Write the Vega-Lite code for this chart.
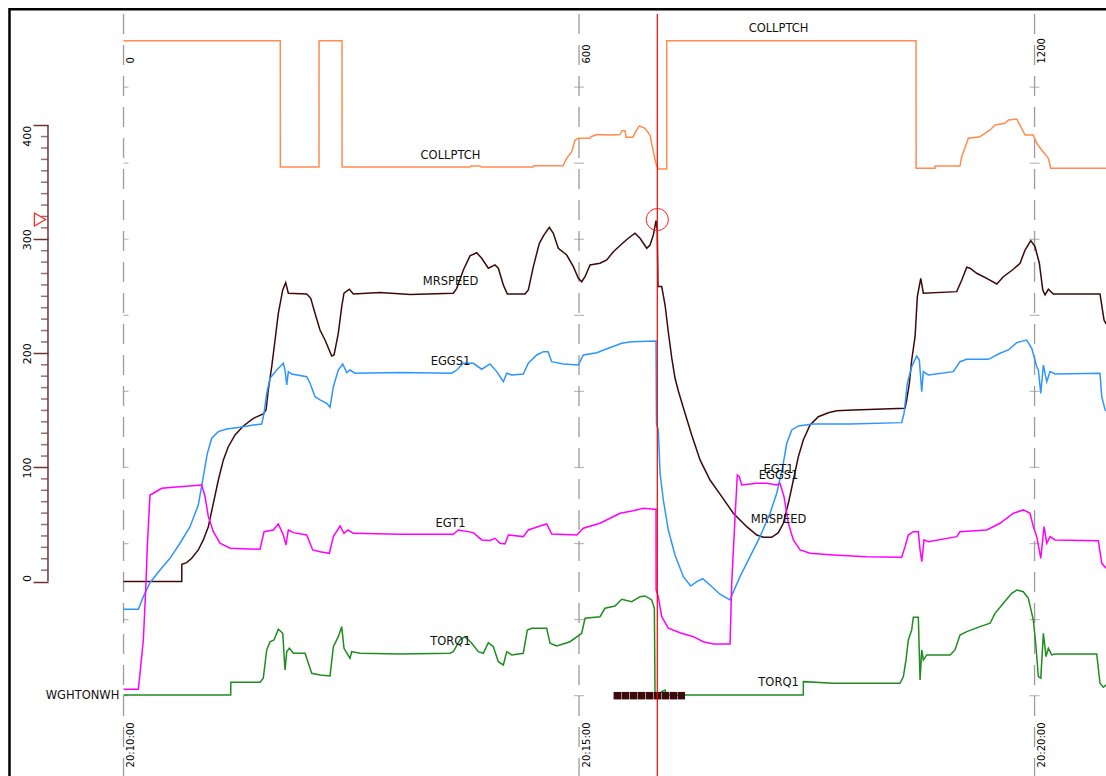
{
"$schema": "https://vega.github.io/schema/vega-lite/v6.json",
"width": 1106, "height": 776,
"autosize": {"type": "none"},
"padding": 0,
"config": {"view": {"stroke": null}, "font": "DejaVu Sans"},
"resolve": {"axis": {"x": "independent", "y": "independent"}},
"datasets": {
"one": [{}],
"grid": [{"t":0},{"t":600},{"t":1200}],
"gridticks": [
{"t":0,"v":-100},{"t":0,"v":-33.3},{"t":0,"v":33.3},{"t":0,"v":100},{"t":0,"v":166.7},{"t":0,"v":233.3},{"t":0,"v":300},{"t":0,"v":366.7},{"t":0,"v":433.3},
{"t":600,"v":-100},{"t":600,"v":-33.3},{"t":600,"v":33.3},{"t":600,"v":100},{"t":600,"v":166.7},{"t":600,"v":233.3},{"t":600,"v":300},{"t":600,"v":366.7},{"t":600,"v":433.3},
{"t":1200,"v":-100},{"t":1200,"v":-33.3},{"t":1200,"v":33.3},{"t":1200,"v":100},{"t":1200,"v":166.7},{"t":1200,"v":233.3},{"t":1200,"v":300},{"t":1200,"v":366.7},{"t":1200,"v":433.3}],
"minor": [{"v":10},{"v":20},{"v":30},{"v":40},{"v":50},{"v":60},{"v":70},{"v":80},{"v":90},{"v":110},{"v":120},{"v":130},{"v":140},{"v":150},{"v":160},{"v":170},{"v":180},{"v":190},{"v":210},{"v":220},{"v":230},{"v":240},{"v":250},{"v":260},{"v":270},{"v":280},{"v":290},{"v":310},{"v":320},{"v":330},{"v":340},{"v":350},{"v":360},{"v":370},{"v":380},{"v":390}],
"collptch": [{"t":0,"v":474.0},{"t":206.5,"v":474.0},{"t":206.6,"v":363.4},{"t":257.5,"v":363.4},{"t":257.6,"v":474.0},{"t":287.8,"v":474.0},{"t":287.9,"v":363.4},{"t":456.4,"v":363.4},{"t":457.7,"v":364.2},{"t":469.6,"v":364.2},{"t":470.9,"v":363.4},{"t":539.4,"v":363.4},{"t":540.7,"v":364.4},{"t":578.9,"v":364.4},{"t":583.8,"v":371.0},{"t":590.4,"v":376.8},{"t":594.7,"v":387.0},{"t":599.1,"v":388.5},{"t":614.5,"v":388.5},{"t":615.8,"v":389.9},{"t":623.3,"v":391.8},{"t":640.8,"v":391.4},{"t":654.0,"v":391.8},{"t":656.6,"v":395.2},{"t":660.6,"v":395.2},{"t":661.9,"v":389.4},{"t":671.1,"v":389.4},{"t":673.7,"v":393.2},{"t":679.4,"v":399.3},{"t":686.9,"v":397.3},{"t":693.5,"v":391.4},{"t":697.9,"v":376.8},{"t":701.4,"v":366.0},{"t":703.1,"v":363.6},{"t":704.4,"v":361.6},{"t":715.5,"v":361.6},{"t":715.6,"v":474.0},{"t":1043.9,"v":474.0},{"t":1044.0,"v":362.2},{"t":1068.9,"v":362.2},{"t":1069.0,"v":364.2},{"t":1101.8,"v":364.2},{"t":1104.1,"v":372.4},{"t":1112.8,"v":388.5},{"t":1128.2,"v":389.9},{"t":1141.4,"v":395.8},{"t":1147.9,"v":400.2},{"t":1161.1,"v":401.7},{"t":1165.5,"v":404.5},{"t":1176.5,"v":405.4},{"t":1181.8,"v":398.7},{"t":1187.5,"v":391.4},{"t":1198.4,"v":391.4},{"t":1202.9,"v":384.1},{"t":1209.5,"v":378.3},{"t":1218.2,"v":371.0},{"t":1221.3,"v":362.2},{"t":1294.2,"v":362.2}],
"mrspeed": [{"t":0,"v":0},{"t":76.7,"v":0},{"t":76.8,"v":15.2},{"t":83.2,"v":16.6},{"t":89.8,"v":20.4},{"t":98.5,"v":27.7},{"t":105.1,"v":36.5},{"t":111.7,"v":48.1},{"t":118.3,"v":68.6},{"t":124.9,"v":89.0},{"t":131.5,"v":106.6},{"t":138.0,"v":118.2},{"t":146.9,"v":128.5},{"t":157.8,"v":136.4},{"t":171.0,"v":143.1},{"t":184.1,"v":146.9},{"t":187.7,"v":150.4},{"t":190.7,"v":167.9},{"t":195.2,"v":188.3},{"t":199.6,"v":211.7},{"t":203.9,"v":235.1},{"t":209.7,"v":255.6},{"t":213.6,"v":262.0},{"t":217.1,"v":252.7},{"t":241.3,"v":252.1},{"t":246.6,"v":248.3},{"t":252.2,"v":235.1},{"t":258.8,"v":220.5},{"t":265.4,"v":211.7},{"t":274.2,"v":197.7},{"t":277.3,"v":198.6},{"t":282.9,"v":217.6},{"t":287.4,"v":240.9},{"t":290.4,"v":252.7},{"t":297.4,"v":256.2},{"t":302.7,"v":252.1},{"t":337.9,"v":253.4},{"t":377.4,"v":251.6},{"t":434.4,"v":252.7},{"t":438.9,"v":257.0},{"t":447.6,"v":273.1},{"t":456.4,"v":285.4},{"t":465.2,"v":288.2},{"t":471.8,"v":283.3},{"t":480.5,"v":274.6},{"t":489.3,"v":277.5},{"t":493.7,"v":274.6},{"t":500.3,"v":259.9},{"t":505.5,"v":252.1},{"t":528.9,"v":252.1},{"t":533.2,"v":255.6},{"t":539.8,"v":276.0},{"t":547.7,"v":296.5},{"t":553.9,"v":303.8},{"t":560.9,"v":310.5},{"t":566.1,"v":305.3},{"t":572.7,"v":292.1},{"t":583.8,"v":286.2},{"t":592.5,"v":276.0},{"t":599.1,"v":265.8},{"t":603.5,"v":262.8},{"t":607.9,"v":267.2},{"t":614.5,"v":277.5},{"t":627.6,"v":279.0},{"t":636.5,"v":281.9},{"t":645.2,"v":289.1},{"t":656.2,"v":295.9},{"t":664.9,"v":300.9},{"t":673.7,"v":305.3},{"t":680.3,"v":300.9},{"t":689.2,"v":292.1},{"t":693.5,"v":295.0},{"t":697.9,"v":303.8},{"t":701.4,"v":316.3},{"t":703.1,"v":308.1},{"t":704.0,"v":258.5},{"t":708.9,"v":258.5},{"t":713.3,"v":242.4},{"t":717.6,"v":218.7},{"t":722.1,"v":196.0},{"t":726.4,"v":178.4},{"t":730.8,"v":167.0},{"t":739.6,"v":147.5},{"t":748.4,"v":128.5},{"t":759.4,"v":106.6},{"t":772.5,"v":89.0},{"t":788.0,"v":74.4},{"t":803.2,"v":59.9},{"t":820.9,"v":48.1},{"t":834.1,"v":40.8},{"t":842.7,"v":38.8},{"t":853.8,"v":38.8},{"t":862.5,"v":42.9},{"t":869.1,"v":51.1},{"t":875.7,"v":68.6},{"t":882.3,"v":89.0},{"t":888.9,"v":109.5},{"t":895.4,"v":124.1},{"t":904.3,"v":137.2},{"t":915.2,"v":144.5},{"t":928.4,"v":148.0},{"t":939.4,"v":149.8},{"t":961.3,"v":150.4},{"t":1000.8,"v":151.3},{"t":1029.4,"v":151.9},{"t":1031.6,"v":159.2},{"t":1035.1,"v":173.8},{"t":1038.2,"v":194.2},{"t":1042.6,"v":214.6},{"t":1045.6,"v":249.7},{"t":1050.1,"v":265.8},{"t":1053.5,"v":252.7},{"t":1097.5,"v":254.1},{"t":1104.1,"v":264.3},{"t":1110.7,"v":275.5},{"t":1115.0,"v":274.6},{"t":1123.8,"v":270.2},{"t":1137.0,"v":265.8},{"t":1150.2,"v":260.8},{"t":1158.9,"v":267.2},{"t":1172.1,"v":273.7},{"t":1180.9,"v":279.0},{"t":1187.5,"v":290.6},{"t":1195.0,"v":298.8},{"t":1200.6,"v":293.5},{"t":1206.3,"v":279.0},{"t":1210.8,"v":255.6},{"t":1213.8,"v":251.2},{"t":1218.2,"v":256.2},{"t":1224.7,"v":252.1},{"t":1286.2,"v":252.1},{"t":1291.5,"v":229.3},{"t":1294.2,"v":225.8}],
"eggs1": [{"t":0,"v":-24.3},{"t":19.5,"v":-24.3},{"t":26.1,"v":-13.2},{"t":34.9,"v":-1.0},{"t":48.1,"v":10.2},{"t":61.2,"v":20.4},{"t":74.4,"v":33.6},{"t":87.6,"v":48.1},{"t":98.5,"v":67.1},{"t":105.1,"v":91.9},{"t":110.4,"v":112.4},{"t":116.2,"v":125.6},{"t":124.9,"v":131.4},{"t":135.9,"v":133.7},{"t":153.5,"v":135.2},{"t":171.0,"v":137.2},{"t":182.0,"v":138.1},{"t":185.1,"v":147.5},{"t":188.6,"v":165.0},{"t":193.0,"v":178.2},{"t":201.8,"v":185.4},{"t":210.5,"v":191.3},{"t":212.7,"v":185.4},{"t":215.0,"v":172.3},{"t":217.1,"v":184.0},{"t":221.6,"v":181.9},{"t":241.3,"v":179.6},{"t":245.7,"v":173.8},{"t":252.2,"v":162.0},{"t":258.8,"v":159.2},{"t":267.7,"v":156.3},{"t":272.0,"v":152.8},{"t":276.4,"v":170.8},{"t":282.9,"v":185.4},{"t":288.7,"v":190.7},{"t":294.0,"v":183.1},{"t":298.3,"v":185.4},{"t":304.9,"v":182.6},{"t":364.2,"v":183.3},{"t":432.3,"v":182.6},{"t":438.9,"v":185.4},{"t":447.6,"v":191.3},{"t":460.8,"v":191.3},{"t":471.8,"v":186.1},{"t":482.8,"v":190.7},{"t":491.6,"v":184.0},{"t":500.3,"v":175.2},{"t":504.8,"v":182.6},{"t":511.3,"v":181.1},{"t":526.6,"v":181.9},{"t":533.2,"v":191.3},{"t":544.3,"v":198.6},{"t":553.0,"v":201.5},{"t":559.2,"v":201.5},{"t":564.0,"v":192.7},{"t":579.3,"v":190.7},{"t":599.1,"v":189.8},{"t":605.6,"v":198.6},{"t":623.3,"v":200.6},{"t":638.6,"v":204.5},{"t":656.2,"v":208.8},{"t":669.4,"v":210.2},{"t":701.4,"v":210.9},{"t":702.0,"v":138.0},{"t":704.4,"v":132.9},{"t":706.7,"v":94.9},{"t":711.0,"v":71.5},{"t":717.6,"v":45.2},{"t":726.4,"v":23.3},{"t":737.4,"v":4.3},{"t":747.1,"v":-3.9},{"t":755.0,"v":-0.1},{"t":762.9,"v":2.5},{"t":772.5,"v":-3.0},{"t":785.7,"v":-11.1},{"t":798.9,"v":-16.1},{"t":802.4,"v":-10.3},{"t":812.0,"v":4.3},{"t":825.2,"v":21.8},{"t":838.4,"v":39.4},{"t":851.6,"v":59.9},{"t":860.4,"v":77.4},{"t":868.3,"v":100.7},{"t":873.6,"v":121.2},{"t":880.2,"v":132.9},{"t":888.9,"v":136.4},{"t":908.6,"v":138.1},{"t":957.0,"v":138.1},{"t":1025.0,"v":139.3},{"t":1028.1,"v":147.5},{"t":1032.4,"v":173.8},{"t":1038.2,"v":188.3},{"t":1044.8,"v":197.7},{"t":1048.2,"v":194.2},{"t":1051.4,"v":166.4},{"t":1053.5,"v":184.0},{"t":1060.1,"v":181.1},{"t":1093.0,"v":184.0},{"t":1101.8,"v":192.7},{"t":1110.7,"v":194.8},{"t":1139.1,"v":194.8},{"t":1154.5,"v":200.1},{"t":1165.5,"v":203.0},{"t":1176.5,"v":209.4},{"t":1189.7,"v":211.7},{"t":1196.3,"v":204.5},{"t":1202.9,"v":188.3},{"t":1205.0,"v":185.4},{"t":1208.2,"v":165.0},{"t":1211.6,"v":189.8},{"t":1216.1,"v":175.2},{"t":1220.4,"v":184.0},{"t":1227.0,"v":181.9},{"t":1286.2,"v":182.6},{"t":1288.5,"v":162.0},{"t":1292.9,"v":150.4},{"t":1294.2,"v":149.5}],
"egt1": [{"t":0,"v":-94.4},{"t":19.5,"v":-94.4},{"t":21.7,"v":-80.4},{"t":26.1,"v":-51.2},{"t":29.6,"v":-1.5},{"t":31.3,"v":30.6},{"t":34.9,"v":75.9},{"t":39.3,"v":77.4},{"t":50.3,"v":81.8},{"t":65.6,"v":82.6},{"t":103.0,"v":84.7},{"t":107.4,"v":74.4},{"t":111.7,"v":56.9},{"t":118.3,"v":43.7},{"t":127.1,"v":33.6},{"t":140.3,"v":29.2},{"t":179.8,"v":28.3},{"t":185.1,"v":43.7},{"t":197.3,"v":45.2},{"t":203.9,"v":50.5},{"t":210.5,"v":40.8},{"t":214.0,"v":32.1},{"t":217.1,"v":45.2},{"t":223.7,"v":42.9},{"t":241.3,"v":40.8},{"t":249.2,"v":27.7},{"t":258.8,"v":26.2},{"t":271.1,"v":24.8},{"t":276.4,"v":39.4},{"t":285.2,"v":48.7},{"t":290.4,"v":42.3},{"t":295.7,"v":45.2},{"t":302.7,"v":42.3},{"t":364.2,"v":41.5},{"t":434.4,"v":41.5},{"t":441.0,"v":45.2},{"t":460.8,"v":42.9},{"t":471.8,"v":36.5},{"t":482.8,"v":36.0},{"t":489.3,"v":37.9},{"t":495.9,"v":33.6},{"t":502.5,"v":33.0},{"t":506.9,"v":40.8},{"t":526.6,"v":39.4},{"t":533.2,"v":45.2},{"t":548.6,"v":48.7},{"t":557.4,"v":50.5},{"t":564.0,"v":41.7},{"t":597.0,"v":40.8},{"t":605.6,"v":46.7},{"t":627.6,"v":51.1},{"t":640.8,"v":55.5},{"t":654.0,"v":59.9},{"t":671.5,"v":62.1},{"t":684.7,"v":64.2},{"t":699.2,"v":63.4},{"t":701.4,"v":63.4},{"t":701.5,"v":-7.4},{"t":704.4,"v":-13.2},{"t":708.9,"v":-30.8},{"t":717.6,"v":-40.9},{"t":733.0,"v":-44.8},{"t":750.5,"v":-48.3},{"t":763.7,"v":-52.7},{"t":776.9,"v":-54.7},{"t":798.9,"v":-54.7},{"t":801.1,"v":-1.5},{"t":805.5,"v":56.9},{"t":808.5,"v":93.4},{"t":811.1,"v":91.9},{"t":814.3,"v":84.7},{"t":834.1,"v":86.2},{"t":847.2,"v":86.2},{"t":860.4,"v":84.7},{"t":864.7,"v":86.2},{"t":870.0,"v":74.4},{"t":875.7,"v":51.1},{"t":882.3,"v":36.5},{"t":891.1,"v":27.7},{"t":904.3,"v":24.8},{"t":935.0,"v":23.3},{"t":978.9,"v":21.8},{"t":1025.0,"v":21.3},{"t":1029.4,"v":30.6},{"t":1033.7,"v":40.8},{"t":1040.3,"v":43.7},{"t":1046.9,"v":43.7},{"t":1049.2,"v":27.7},{"t":1051.4,"v":17.4},{"t":1054.4,"v":36.5},{"t":1060.1,"v":35.0},{"t":1097.5,"v":39.4},{"t":1101.8,"v":43.7},{"t":1137.0,"v":45.2},{"t":1154.5,"v":51.1},{"t":1172.1,"v":59.9},{"t":1185.2,"v":62.8},{"t":1194.0,"v":59.9},{"t":1198.4,"v":48.1},{"t":1202.9,"v":39.4},{"t":1208.2,"v":20.4},{"t":1212.5,"v":48.1},{"t":1216.1,"v":33.6},{"t":1220.4,"v":39.4},{"t":1227.0,"v":36.5},{"t":1284.0,"v":35.8},{"t":1288.5,"v":16.0},{"t":1294.2,"v":11.7}],
"torq1": [{"t":0,"v":-99.4},{"t":141.2,"v":-99.4},{"t":141.3,"v":-88.3},{"t":179.8,"v":-88.3},{"t":184.1,"v":-84.7},{"t":188.6,"v":-59.9},{"t":193.0,"v":-52.7},{"t":198.2,"v":-51.2},{"t":203.9,"v":-41.8},{"t":209.7,"v":-45.3},{"t":212.7,"v":-77.5},{"t":215.0,"v":-61.4},{"t":218.4,"v":-58.5},{"t":223.7,"v":-62.8},{"t":239.1,"v":-62.8},{"t":247.9,"v":-80.4},{"t":258.8,"v":-81.9},{"t":272.0,"v":-82.7},{"t":276.4,"v":-57.1},{"t":282.9,"v":-48.3},{"t":287.4,"v":-39.5},{"t":290.4,"v":-58.5},{"t":298.3,"v":-67.2},{"t":300.6,"v":-61.4},{"t":311.5,"v":-62.8},{"t":364.2,"v":-63.5},{"t":430.1,"v":-62.8},{"t":434.4,"v":-61.4},{"t":443.2,"v":-51.2},{"t":449.8,"v":-48.3},{"t":458.7,"v":-54.1},{"t":467.3,"v":-61.4},{"t":473.9,"v":-62.8},{"t":480.5,"v":-53.5},{"t":487.1,"v":-57.1},{"t":493.7,"v":-70.2},{"t":500.3,"v":-73.1},{"t":504.8,"v":-61.4},{"t":511.3,"v":-64.3},{"t":526.6,"v":-62.8},{"t":531.9,"v":-42.4},{"t":537.7,"v":-40.9},{"t":557.4,"v":-40.9},{"t":561.8,"v":-54.1},{"t":570.6,"v":-56.4},{"t":588.1,"v":-52.7},{"t":603.5,"v":-45.3},{"t":607.9,"v":-32.2},{"t":627.6,"v":-30.8},{"t":634.2,"v":-23.4},{"t":647.4,"v":-21.4},{"t":656.2,"v":-15.5},{"t":669.4,"v":-17.6},{"t":680.3,"v":-13.2},{"t":686.9,"v":-12.6},{"t":695.7,"v":-16.1},{"t":699.2,"v":-23.4},{"t":700.1,"v":-99.4},{"t":704.4,"v":-99.4},{"t":708.9,"v":-96.5},{"t":713.3,"v":-95.0},{"t":715.5,"v":-99.4},{"t":895.4,"v":-99.4},{"t":895.5,"v":-87.7},{"t":935.0,"v":-89.1},{"t":1022.8,"v":-89.1},{"t":1027.2,"v":-83.3},{"t":1030.7,"v":-68.7},{"t":1033.7,"v":-51.2},{"t":1038.2,"v":-42.4},{"t":1040.3,"v":-31.3},{"t":1046.9,"v":-31.3},{"t":1049.2,"v":-86.2},{"t":1051.4,"v":-59.9},{"t":1053.5,"v":-68.7},{"t":1058.0,"v":-64.3},{"t":1088.7,"v":-64.3},{"t":1095.2,"v":-59.9},{"t":1101.8,"v":-46.8},{"t":1110.7,"v":-43.9},{"t":1128.2,"v":-39.5},{"t":1141.4,"v":-36.5},{"t":1147.9,"v":-27.8},{"t":1158.9,"v":-19.0},{"t":1169.9,"v":-10.3},{"t":1176.5,"v":-7.4},{"t":1185.2,"v":-8.9},{"t":1191.8,"v":-14.6},{"t":1198.4,"v":-33.7},{"t":1201.9,"v":-57.1},{"t":1205.0,"v":-83.3},{"t":1208.2,"v":-84.7},{"t":1211.6,"v":-45.3},{"t":1215.1,"v":-65.8},{"t":1218.2,"v":-58.5},{"t":1222.6,"v":-64.3},{"t":1227.0,"v":-63.5},{"t":1281.9,"v":-63.5},{"t":1286.2,"v":-89.1},{"t":1290.6,"v":-92.6},{"t":1294.2,"v":-90.6}],
"wow": [{"t":650.4,"v":-100},{"t":660.9,"v":-100},{"t":671.5,"v":-100},{"t":682.0,"v":-100},{"t":692.6,"v":-100},{"t":703.1,"v":-100},{"t":713.6,"v":-100},{"t":724.2,"v":-100},{"t":734.7,"v":-100}],
"labels": [{"text":"COLLPTCH","t":430.7,"v":373.0},{"text":"MRSPEED","t":430.7,"v":262.8},{"text":"EGGS1","t":430.7,"v":192.7},{"text":"EGT1","t":430.7,"v":50.5},{"text":"TORQ1","t":430.7,"v":-53.2},{"text":"COLLPTCH","t":862.8,"v":484.0},{"text":"EGT1","t":862.8,"v":97.8},{"text":"EGGS1","t":862.8,"v":92.5},{"text":"MRSPEED","t":862.8,"v":54.0},{"text":"TORQ1","t":862.8,"v":-89.1}],
"wlabel": [{"text":"WGHTONWH","t":-5.5,"v":-100}],
"cursor": [{"t":703.1,"v":317.3}]
},
"layer": [
{"data":{"name":"one"},
 "mark": {"type":"rect","filled":false,"fill":null,"stroke":"#000000","strokeWidth":2.5},
 "encoding": {
  "x":{"datum":-150.2,"type":"quantitative","scale":{"domain":[-162.7,1294.1],"nice":false,"zero":false},"axis":null},
  "x2":{"datum":1400},
  "y":{"datum":501.6,"type":"quantitative","scale":{"domain":[-170.4,509.7],"nice":false,"zero":false},"axis":null},
  "y2":{"datum":-300}}},
{"data":{"name":"grid"},
 "mark":{"type":"rule","stroke":"#9c9c9c","strokeWidth":1.3,"strokeDash":[20,11]},
 "encoding":{
  "x":{"field":"t","type":"quantitative","scale":{"domain":[-162.7,1294.1],"nice":false,"zero":false},
   "axis":{"orient":"bottom","values":[0,600,1200],"labelExpr":"datum.value == 0 ? '20:10:00' : datum.value == 600 ? '20:15:00' : '20:20:00'","labelAngle":-90,"offset":-60,"domain":false,"ticks":false,"tickSize":0,"grid":false,"labelPadding":6,"labelOffset":7,"labelFontSize":10,"labelFont":"DejaVu Sans","labelColor":"#000000","labelOverlap":false,"labelFlush":false,"labelBound":false,"title":null}},
  "y":{"datum":497.4,"type":"quantitative","scale":{"domain":[-170.4,509.7],"nice":false,"zero":false},"axis":null},
  "y2":{"datum":-170.4}}},
{"data":{"name":"gridticks"},
 "transform":[{"filter":"datum.t != 0"}],
 "mark":{"type":"tick","orient":"horizontal","color":"#9c9c9c","thickness":1.2,"size":10},
 "encoding":{
  "x":{"field":"t","type":"quantitative","scale":{"domain":[-162.7,1294.1],"nice":false,"zero":false},"axis":null},
  "y":{"field":"v","type":"quantitative","scale":{"domain":[-170.4,509.7],"nice":false,"zero":false},"axis":null}}},
{"data":{"name":"gridticks"},
 "transform":[{"filter":"datum.t == 0"}],
 "mark":{"type":"tick","orient":"horizontal","color":"#9c9c9c","thickness":1.2,"size":5,"xOffset":2.5},
 "encoding":{
  "x":{"field":"t","type":"quantitative","scale":{"domain":[-162.7,1294.1],"nice":false,"zero":false},"axis":null},
  "y":{"field":"v","type":"quantitative","scale":{"domain":[-170.4,509.7],"nice":false,"zero":false},"axis":null}}},
{"data":{"name":"one"},
 "mark":{"type":"rule","stroke":"#6e3434","strokeWidth":1.5},
 "encoding":{
  "x":{"datum":-99.5,"type":"quantitative","scale":{"domain":[-162.7,1294.1],"nice":false,"zero":false},"axis":null},
  "y":{"datum":0,"type":"quantitative","scale":{"domain":[-170.4,509.7],"nice":false,"zero":false},"axis":null},
  "y2":{"datum":400}}},
{"data":{"name":"minor"},
 "mark":{"type":"tick","orient":"horizontal","color":"#6e3434","thickness":1.5,"size":7,"xOffset":-3.5},
 "encoding":{
  "x":{"datum":-99.5,"type":"quantitative","scale":{"domain":[-162.7,1294.1],"nice":false,"zero":false},"axis":null},
  "y":{"field":"v","type":"quantitative","scale":{"domain":[-170.4,509.7],"nice":false,"zero":false},"axis":null}}},
{"data":{"name":"collptch"},
 "mark":{"type":"line","stroke":"#ff8c50","strokeWidth":1.5},
 "encoding":{
  "x":{"field":"t","type":"quantitative","scale":{"domain":[-162.7,1294.1],"nice":false,"zero":false},
   "axis":{"orient":"top","values":[0,600,1200],"format":"d","labelAngle":-90,"offset":-69,"domain":false,"ticks":false,"tickSize":0,"grid":false,"labelPadding":6,"labelOffset":7,"labelFontSize":10,"labelFont":"DejaVu Sans","labelColor":"#000000","labelOverlap":false,"labelFlush":false,"labelBound":false,"title":null}},
  "y":{"field":"v","type":"quantitative","scale":{"domain":[-170.4,509.7],"nice":false,"zero":false},
   "axis":{"orient":"left","offset":-48,"values":[0,100,200,300,400],"format":"d",
    "domain":false,"grid":false,"tickColor":"#6e3434","tickWidth":1.5,"tickSize":15,
    "labelAngle":-90,"labelPadding":1,
    "labelAlign":{"condition":[{"test":"datum.value === 400","value":"right"},{"test":"datum.value === 0","value":"left"}],"value":"center"},
    "labelFontSize":11,"labelFont":"DejaVu Sans","labelColor":"#000000","labelOverlap":false,"labelFlush":false,"labelBound":false,"title":null}}}},
{"data":{"name":"mrspeed"},"mark":{"type":"line","stroke":"#3c0a0a","strokeWidth":1.5},
 "encoding":{"x":{"field":"t","type":"quantitative","scale":{"domain":[-162.7,1294.1],"nice":false,"zero":false},"axis":null},
  "y":{"field":"v","type":"quantitative","scale":{"domain":[-170.4,509.7],"nice":false,"zero":false},"axis":null}}},
{"data":{"name":"eggs1"},"mark":{"type":"line","stroke":"#2e95ff","strokeWidth":1.5},
 "encoding":{"x":{"field":"t","type":"quantitative","scale":{"domain":[-162.7,1294.1],"nice":false,"zero":false},"axis":null},
  "y":{"field":"v","type":"quantitative","scale":{"domain":[-170.4,509.7],"nice":false,"zero":false},"axis":null}}},
{"data":{"name":"egt1"},"mark":{"type":"line","stroke":"#ff00ff","strokeWidth":1.5},
 "encoding":{"x":{"field":"t","type":"quantitative","scale":{"domain":[-162.7,1294.1],"nice":false,"zero":false},"axis":null},
  "y":{"field":"v","type":"quantitative","scale":{"domain":[-170.4,509.7],"nice":false,"zero":false},"axis":null}}},
{"data":{"name":"torq1"},"mark":{"type":"line","stroke":"#1f8c1f","strokeWidth":1.5},
 "encoding":{"x":{"field":"t","type":"quantitative","scale":{"domain":[-162.7,1294.1],"nice":false,"zero":false},"axis":null},
  "y":{"field":"v","type":"quantitative","scale":{"domain":[-170.4,509.7],"nice":false,"zero":false},"axis":null}}},
{"data":{"name":"wow"},"mark":{"type":"square","filled":true,"color":"#3c0a0a","size":56,"opacity":1},
 "encoding":{"x":{"field":"t","type":"quantitative","scale":{"domain":[-162.7,1294.1],"nice":false,"zero":false},"axis":null},
  "y":{"field":"v","type":"quantitative","scale":{"domain":[-170.4,509.7],"nice":false,"zero":false},"axis":null}}},
{"data":{"name":"labels"},"mark":{"type":"text","font":"DejaVu Sans","fontSize":11.5,"color":"#111111","align":"center","baseline":"middle"},
 "encoding":{"x":{"field":"t","type":"quantitative","scale":{"domain":[-162.7,1294.1],"nice":false,"zero":false},"axis":null},
  "y":{"field":"v","type":"quantitative","scale":{"domain":[-170.4,509.7],"nice":false,"zero":false},"axis":null},
  "text":{"field":"text"}}},
{"data":{"name":"wlabel"},"mark":{"type":"text","font":"DejaVu Sans","fontSize":11.5,"color":"#111111","align":"right","baseline":"middle"},
 "encoding":{"x":{"field":"t","type":"quantitative","scale":{"domain":[-162.7,1294.1],"nice":false,"zero":false},"axis":null},
  "y":{"field":"v","type":"quantitative","scale":{"domain":[-170.4,509.7],"nice":false,"zero":false},"axis":null},
  "text":{"field":"text"}}},
{"data":{"name":"cursor"},"mark":{"type":"rule","stroke":"#ff0000","strokeWidth":1.2},
 "encoding":{"x":{"field":"t","type":"quantitative","scale":{"domain":[-162.7,1294.1],"nice":false,"zero":false},"axis":null},
  "y":{"datum":497.4,"type":"quantitative","scale":{"domain":[-170.4,509.7],"nice":false,"zero":false},"axis":null},
  "y2":{"datum":-170.4}}},
{"data":{"name":"cursor"},"mark":{"type":"point","shape":"circle","filled":false,"stroke":"#ff2020","strokeWidth":1,"size":490,"opacity":1},
 "encoding":{"x":{"field":"t","type":"quantitative","scale":{"domain":[-162.7,1294.1],"nice":false,"zero":false},"axis":null},
  "y":{"field":"v","type":"quantitative","scale":{"domain":[-170.4,509.7],"nice":false,"zero":false},"axis":null}}},
{"data":{"name":"cursor"},"mark":{"type":"point","shape":"triangle-right","filled":false,"stroke":"#ff2020","strokeWidth":1.2,"size":170,"opacity":1},
 "encoding":{"x":{"datum":-110,"type":"quantitative","scale":{"domain":[-162.7,1294.1],"nice":false,"zero":false},"axis":null},
  "y":{"field":"v","type":"quantitative","scale":{"domain":[-170.4,509.7],"nice":false,"zero":false},"axis":null}}}
]
}
